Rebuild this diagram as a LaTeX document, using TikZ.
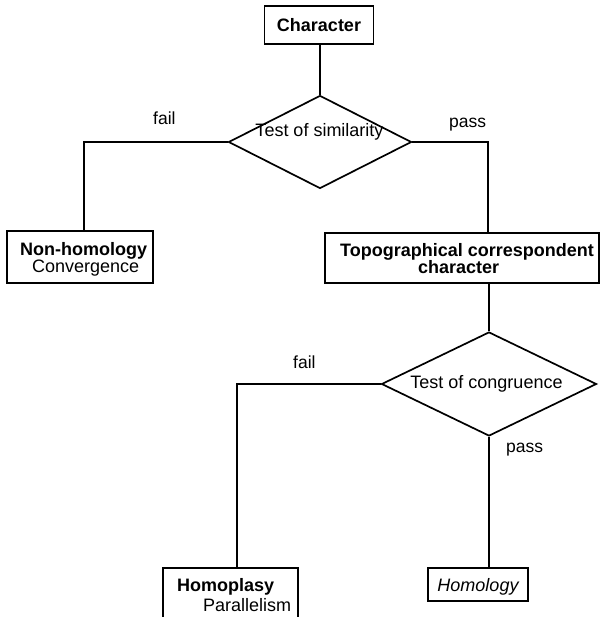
\documentclass[tikz,border=0pt]{standalone}
\usepackage{fontspec}
\setmainfont{Liberation Sans}
\usetikzlibrary{shapes.geometric}
\begin{document}
\begin{tikzpicture}[x=1pt,y=-1pt,
  line/.style={line width=1.7pt},
  box/.style={draw,line width=1.7pt,inner sep=0pt},
  dia/.style={draw,diamond,aspect=2,inner sep=0pt,line width=1.7pt},
  txt/.style={inner sep=0pt,anchor=base west,font=\fontsize{18}{20}\selectfont},
  btxt/.style={inner sep=0pt,anchor=base west,font=\bfseries\fontsize{18}{20}\selectfont},
  lab/.style={inner sep=0pt,anchor=base west,font=\fontsize{17.5}{20}\selectfont}]
\useasboundingbox (0,0) rectangle (600,617);

% boxes
\node[box,minimum width=109pt,minimum height=38pt,text height=13pt,text depth=0pt,
      font=\bfseries\fontsize{18}{20}\selectfont] (char) at (319,25) {Character};
\node[box,minimum width=146pt,minimum height=52pt] (nonh) at (80,257) {};
\node[box,minimum width=274pt,minimum height=50pt] (topo) at (462,258) {};
\node[inner sep=0pt,minimum width=135pt,minimum height=49pt] (homp) at (230.5,592.5) {};
\draw[line] (homp.south west) -- (homp.north west) -- (homp.north east) -- (homp.south east);
\node[box,minimum width=100pt,minimum height=33pt,text height=13pt,text depth=0pt,
      font=\itshape\fontsize{18}{20}\selectfont] (homol) at (478,584.5) {Homology};

% diamonds
\node[dia,minimum width=183pt,minimum height=93pt] (d1) at (320,142) {};
\node[dia,minimum width=215pt,minimum height=104pt] (d2) at (489,384) {};

% texts
\node[txt,anchor=base] (t1) at (319.5,137) {Test of similarity};
\node[txt,anchor=base] (t2) at (486.5,388) {Test of congruence};
\node[btxt] (nh1) at (20,255) {Non-homology};
\node[txt] (nh2) at (32,272.5) {Convergence};
\node[btxt] (tp1) at (340,256.5) {Topographical correspondent};
\node[btxt] (tp2) at (418,273) {character};
\node[btxt] (hp1) at (177,591.5) {Homoplasy};
\node[txt] (hp2) at (203,611) {Parallelism};

% labels
\node[lab] (f1) at (153,125) {fail};
\node[lab] (p1) at (449,128) {pass};
\node[lab] (f2) at (293,368) {fail};
\node[lab] (p2) at (506,452) {pass};

% connectors
\draw[line] (d1.north) -- (d1.north |- char.south);
\draw[line] (d1.west) -| ([xshift=4pt]nonh.north);
\draw[line] (d1.east) -| ([xshift=26pt]topo.north);
\draw[line] (d2.north) -- (d2.north |- topo.south);
\draw[line] (d2.west) -| ([xshift=6.5pt]homp.north);
\draw[line] (d2.south) -- (d2.south |- homol.north);
\end{tikzpicture}
\end{document}
